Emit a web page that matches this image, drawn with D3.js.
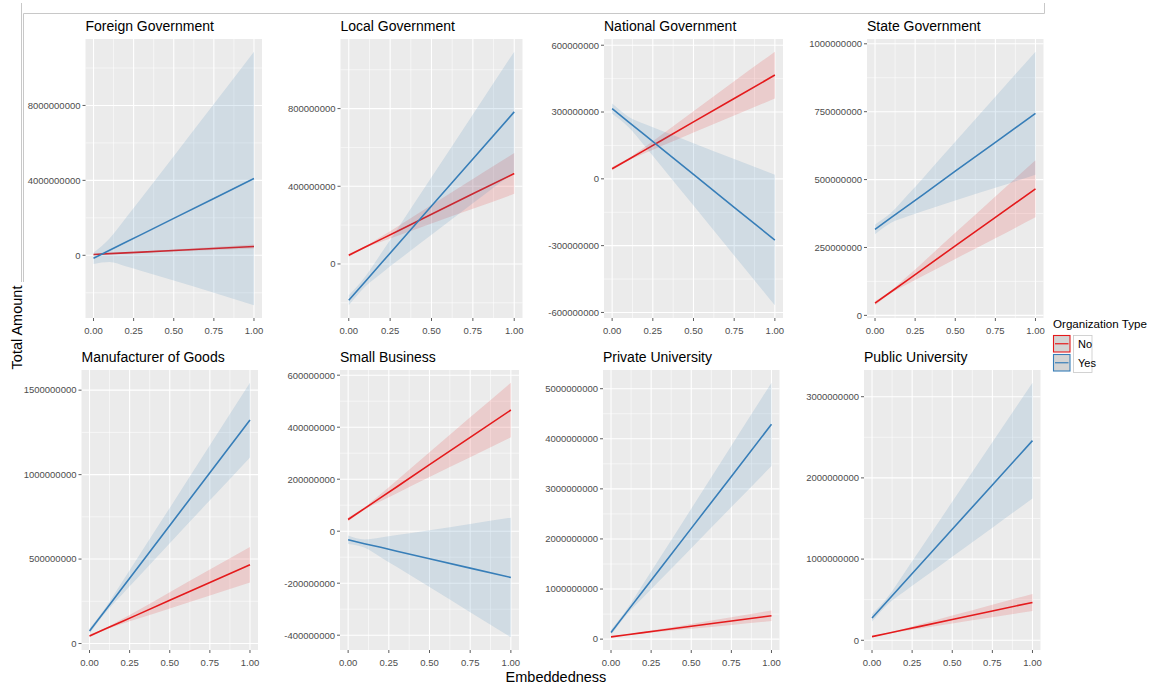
<!DOCTYPE html>
<html>
<head>
<meta charset="utf-8">
<script src="https://cdn.jsdelivr.net/npm/d3@7"></script>
<style>
  body { margin: 0; background: #ffffff; }
  text { font-family: "Liberation Sans", Arial, Helvetica, sans-serif; }
</style>
</head>
<body>
<svg id="chart" width="1156" height="686"></svg>
<script>
// ---- data (amounts in millions) ----
const panelNames = [
  "Foreign Government", "Local Government", "National Government", "State Government",
  "Manufacturer of Goods", "Small Business", "Private University", "Public University"
];
const groupNames = ["No", "Yes"];
const embeddedness = [0, 0.1, 0.2, 0.3, 0.5, 0.75, 1];
const xTickValues = [0, 0.25, 0.5, 0.75, 1];
const UNIT = 1e6;

// fitted line and confidence band for organisations outside the type ("No")
const noFit   = [45, 87, 129, 171, 256, 361, 466];
const noLower = [37, 82, 115, 146, 208, 284, 361];
const noUpper = [53, 92, 143, 196, 304, 438, 571];

// fitted line and confidence band for organisations of the type ("Yes"), one row per panel
const yesFit = [
  [-160, 266, 692, 1118, 1970, 3035, 4100],
  [-187, -90, 7, 104, 298, 540, 783],
  [315, 256, 197, 138, 20, -128, -275],
  [317, 360, 402, 445, 531, 637, 744],
  [74, 199, 324, 449, 699, 1011, 1323],
  [-33, -48, -62, -77, -106, -142, -178],
  [133, 549, 964, 1380, 2211, 3249, 4288],
  [275, 493, 712, 930, 1367, 1913, 2459]
];
const yesLower = [
  [-460, -364, -588, -832, -1350, -2005, -2670],
  [-213, -116, -46, 20, 150, 312, 473],
  [292, 233, 148, 59, -120, -344, -568],
  [299, 341, 364, 384, 423, 470, 518],
  [59, 184, 288, 390, 594, 848, 1102],
  [-49, -63, -100, -138, -215, -312, -408],
  [80, 496, 830, 1159, 1816, 2637, 3457],
  [230, 448, 597, 741, 1029, 1387, 1746]
];
const yesUpper = [
  [140, 896, 1972, 3068, 5290, 8075, 10870],
  [-161, -64, 60, 188, 446, 770, 1093],
  [338, 279, 246, 217, 160, 89, 18],
  [335, 378, 441, 506, 639, 805, 971],
  [89, 214, 360, 508, 803, 1174, 1544],
  [-17, -32, -24, -15, 4, 28, 52],
  [186, 602, 1099, 1600, 2605, 3862, 5119],
  [320, 538, 827, 1119, 1705, 2439, 3172]
];

const yTickValues = [
  [0, 4000, 8000],
  [0, 400, 800],
  [-600, -300, 0, 300, 600],
  [0, 250, 500, 750, 1000],
  [0, 500, 1000, 1500],
  [-400, -200, 0, 200, 400, 600],
  [0, 1000, 2000, 3000, 4000, 5000],
  [0, 1000, 2000, 3000]
];

// ---- layout ----
const panelLayout = [
  { x0: 85.5, x1: 262,   y0: 39,  y1: 318 },
  { x0: 340.5, x1: 522.5, y0: 39,  y1: 318 },
  { x0: 604,  x1: 783,   y0: 39,  y1: 318 },
  { x0: 867,  x1: 1043.5, y0: 39, y1: 318 },
  { x0: 81.5, x1: 258,   y0: 370, y1: 650 },
  { x0: 340,  x1: 519,   y0: 370, y1: 650 },
  { x0: 603,  x1: 779.5, y0: 370, y1: 650 },
  { x0: 864,  x1: 1040.5, y0: 370, y1: 650 }
];
const colors = { No: "#E41A1C", Yes: "#377EB8" };
const panelBg = "#EBEBEB";

const svg = d3.select("#chart");

// frame lines along the top-left edge of the figure
const frame = svg.append("g").attr("stroke", "#c8c8c8").attr("stroke-width", 1).attr("fill", "none");
frame.append("path").attr("d", "M21.5,3 V282");
frame.append("path").attr("d", "M23.5,282 V13.5 H1044.5 V3");

const fmt = v => String(Math.round(v * UNIT));

panelNames.forEach((name, i) => {
  const L = panelLayout[i];
  const g = svg.append("g");

  const all = [].concat(noLower, noUpper, yesLower[i], yesUpper[i], noFit, yesFit[i]);
  const [mn, mx] = d3.extent(all);
  const pad = (mx - mn) * 0.05;
  const y = d3.scaleLinear().domain([mn - pad, mx + pad]).range([L.y1, L.y0]);
  const x = d3.scaleLinear().domain([-0.05, 1.05]).range([L.x0, L.x1]);

  // panel background
  g.append("rect")
    .attr("x", L.x0).attr("y", L.y0)
    .attr("width", L.x1 - L.x0).attr("height", L.y1 - L.y0)
    .attr("fill", panelBg);

  // minor grid
  const ticks = yTickValues[i];
  const step = ticks[1] - ticks[0];
  const dom = y.domain();
  const yMinor = [];
  for (let v = ticks[0] - step / 2; v <= dom[1]; v += step) {
    if (v >= dom[0]) yMinor.push(v);
  }
  const xMinor = [0.125, 0.375, 0.625, 0.875];
  g.selectAll(".ymin").data(yMinor).join("line")
    .attr("x1", L.x0).attr("x2", L.x1)
    .attr("y1", d => y(d)).attr("y2", d => y(d))
    .attr("stroke", "#ffffff").attr("stroke-width", 0.55);
  g.selectAll(".xmin").data(xMinor).join("line")
    .attr("y1", L.y0).attr("y2", L.y1)
    .attr("x1", d => x(d)).attr("x2", d => x(d))
    .attr("stroke", "#ffffff").attr("stroke-width", 0.55);
  // major grid
  g.selectAll(".ymaj").data(ticks).join("line")
    .attr("x1", L.x0).attr("x2", L.x1)
    .attr("y1", d => y(d)).attr("y2", d => y(d))
    .attr("stroke", "#ffffff").attr("stroke-width", 1.1);
  g.selectAll(".xmaj").data(xTickValues).join("line")
    .attr("y1", L.y0).attr("y2", L.y1)
    .attr("x1", d => x(d)).attr("x2", d => x(d))
    .attr("stroke", "#ffffff").attr("stroke-width", 1.1);

  const clipId = "clip" + i;
  svg.append("clipPath").attr("id", clipId).append("rect")
    .attr("x", L.x0).attr("y", L.y0)
    .attr("width", L.x1 - L.x0).attr("height", L.y1 - L.y0);
  const marks = g.append("g").attr("clip-path", `url(#${clipId})`);

  const series = [
    { key: "No", fit: noFit, lo: noLower, hi: noUpper },
    { key: "Yes", fit: yesFit[i], lo: yesLower[i], hi: yesUpper[i] }
  ];
  const area = d3.area()
    .x((d, j) => x(embeddedness[j]))
    .y0(d => y(d[0])).y1(d => y(d[1]))
    .curve(d3.curveMonotoneX);
  const line = d3.line()
    .x((d, j) => x(embeddedness[j]))
    .y(d => y(d));

  series.forEach(s => {
    marks.append("path")
      .attr("d", area(s.lo.map((v, j) => [v, s.hi[j]])))
      .attr("fill", colors[s.key]).attr("fill-opacity", 0.15);
    marks.append("path")
      .attr("d", line(s.fit))
      .attr("fill", "none").attr("stroke", colors[s.key]).attr("stroke-width", 1.6);
  });

  // y axis
  const yAxis = g.append("g");
  yAxis.selectAll("line").data(ticks).join("line")
    .attr("x1", L.x0 - 3).attr("x2", L.x0)
    .attr("y1", d => y(d)).attr("y2", d => y(d))
    .attr("stroke", "#333333").attr("stroke-width", 0.8);
  yAxis.selectAll("text").data(ticks).join("text")
    .attr("x", L.x0 - 5).attr("y", d => y(d)).attr("dy", "0.35em")
    .attr("text-anchor", "end").attr("font-size", 9.5).attr("fill", "#4d4d4d")
    .text(fmt);

  // x axis
  const xAxis = g.append("g");
  xAxis.selectAll("line").data(xTickValues).join("line")
    .attr("y1", L.y1).attr("y2", L.y1 + 3)
    .attr("x1", d => x(d)).attr("x2", d => x(d))
    .attr("stroke", "#333333").attr("stroke-width", 0.8);
  xAxis.selectAll("text").data(xTickValues).join("text")
    .attr("x", d => x(d)).attr("y", L.y1 + 15.5)
    .attr("text-anchor", "middle").attr("font-size", 9.5).attr("fill", "#4d4d4d")
    .text(d3.format(".2f"));

  // panel title
  g.append("text")
    .attr("x", L.x0).attr("y", L.y0 - 8.5)
    .attr("font-size", 14).attr("fill", "#000000")
    .text(name);
});

// axis titles
svg.append("text")
  .attr("transform", "translate(21.5,327.5) rotate(-90)")
  .attr("text-anchor", "middle").attr("font-size", 14.5).attr("fill", "#000000")
  .text("Total Amount");
svg.append("text")
  .attr("x", 556).attr("y", 681.5)
  .attr("text-anchor", "middle").attr("font-size", 14.5).attr("fill", "#000000")
  .text("Embeddedness");

// legend
const legend = svg.append("g");
legend.append("text")
  .attr("x", 1053).attr("y", 328)
  .attr("font-size", 11.6).attr("fill", "#000000")
  .text("Organization Type");
legend.append("rect")
  .attr("x", 1073.5).attr("y", 335.5).attr("width", 18.5).attr("height", 37)
  .attr("fill", "#ffffff").attr("stroke", "#c8c8c8").attr("stroke-width", 0.8);
groupNames.forEach((k, j) => {
  const ky = 335.5 + j * 19;
  legend.append("rect")
    .attr("x", 1053.5).attr("y", ky).attr("width", 16.5).attr("height", 16.5)
    .attr("fill", "#d4d4d4").attr("stroke", colors[k]).attr("stroke-width", 1.1);
  legend.append("line")
    .attr("x1", 1055).attr("x2", 1068.5)
    .attr("y1", ky + 8.25).attr("y2", ky + 8.25)
    .attr("stroke", colors[k]).attr("stroke-width", 1.2);
  legend.append("text")
    .attr("x", 1078).attr("y", ky + 12)
    .attr("font-size", 11).attr("fill", "#000000")
    .text(k);
});
</script>
</body>
</html>
